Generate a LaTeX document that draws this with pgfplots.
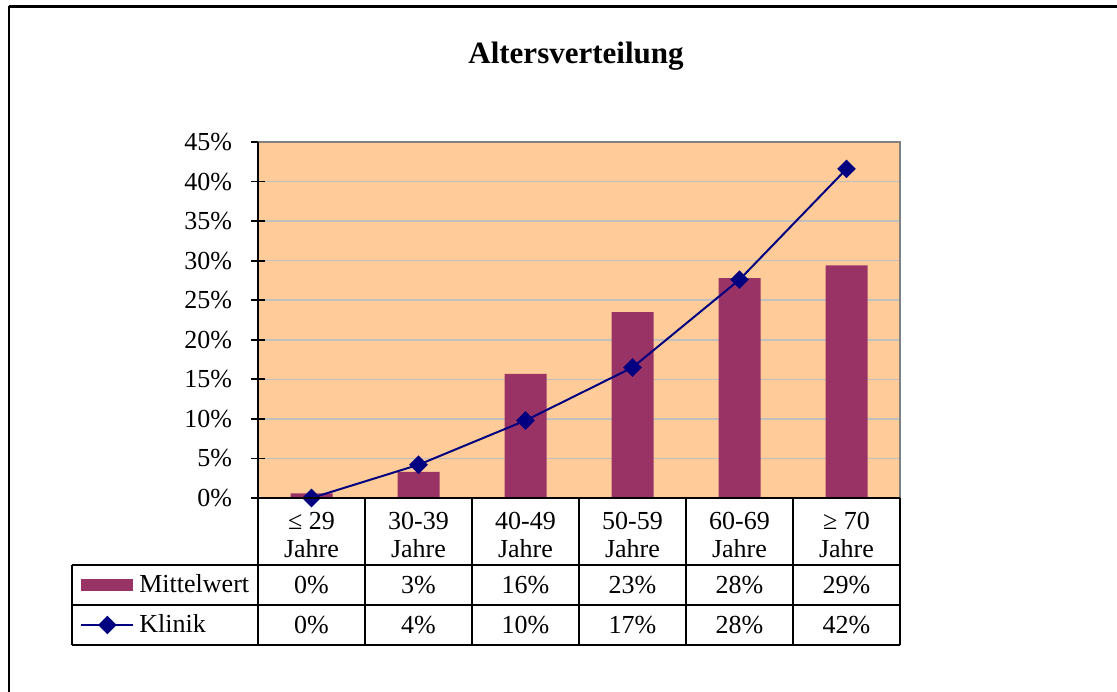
\documentclass[border=0pt]{standalone}
\usepackage{fontspec}
\setmainfont{Liberation Serif}
\usepackage{pgfplots}
\pgfplotsset{compat=1.18}
\definecolor{bgorange}{HTML}{FFCC99}
\definecolor{barred}{HTML}{993366}
\definecolor{navy}{HTML}{000080}
\definecolor{gridgray}{HTML}{C0C0C0}
\definecolor{framegray}{HTML}{808080}
\newcommand{\tfont}{\fontsize{13}{14}\selectfont}
\pgfplotsset{
  barleg/.style={legend image code/.code={\fill[barred] (0pt,-3pt) rectangle (26pt,3pt);}},
  lineleg/.style={legend image code/.code={\draw[mark repeat=2, mark phase=2, ##1]
        plot coordinates {(0pt,0pt) (13pt,0pt) (26pt,0pt)};}},
}

\begin{document}
\begin{tikzpicture}[font=\tfont]
\path[use as bounding box] (0,0) rectangle (558.5pt,345.5pt);
\begin{axis}[
    at={(129pt,96.5pt)}, anchor=south west,
    scale only axis, width=321pt, height=178pt,
    xmin=-0.5, xmax=5.5, ymin=0, ymax=45,
    clip=false,
    xtick={0,...,5},
    xticklabels={{≤ 29\\Jahre},{30-39\\Jahre},{40-49\\Jahre},{50-59\\Jahre},{60-69\\Jahre},{≥ 70\\Jahre}},
    xticklabel style={align=center, font=\tfont},
    x tick style={draw=none},
    ytick={0,5,10,15,20,25,30,35,40,45},
    yticklabels={0\%,5\%,10\%,15\%,20\%,25\%,30\%,35\%,40\%,45\%},
    yticklabel style={font=\tfont, xshift=-6pt},
    ytick pos=left,
    y tick style={black, line width=0.9pt},
    tick align=center, major tick length=7pt,
    axis line style={draw=none},
    axis background/.style={fill=bgorange},
    ymajorgrids, grid style={gridgray, line width=0.75pt},
    legend style={at={(-0.2773,-0.3006)}, anchor=west, draw=none, fill=none,
        inner sep=0pt, font=\tfont,
        nodes={inner sep=0pt, minimum height=20pt}},
    legend cell align=left,
]
\addplot[ybar, bar width=21pt, fill=barred, draw=none, barleg]
    coordinates {(0,0.6) (1,3.3) (2,15.7) (3,23.5) (4,27.8) (5,29.4)};
\addlegendentry{\hspace{2.5pt}Mittelwert}
\addplot[navy, line width=1pt, mark=square*, mark size=2.8pt,
    mark options={rotate=45, fill=navy}, lineleg]
    coordinates {(0,0) (1,4.2) (2,9.8) (3,16.5) (4,27.6) (5,41.6)};
\addlegendentry{\hspace{2.5pt}Klinik}
\end{axis}

\begin{scope}[x=0.5pt, y=-0.5pt, yshift=345.5pt]
  % outer frame (only top and left visible)
  \draw[line width=1.2pt] (8.5,6.5) -- (1120,6.5);
  \draw[line width=1pt] (8.5,6.5) -- (8.5,700);
  % title
  \node[font=\fontsize{15.5}{18}\selectfont\bfseries] at (576,56) {Altersverteilung};
  % plot border
  \draw[framegray, line width=1pt] (258,142) -- (900,142) -- (900,498);
  \draw[line width=1pt] (258,142) -- (258,645);
  % data table
  \begin{scope}[line width=0.9pt]
    \draw (258,498) -- (900,498);
    \draw (72,565) -- (900,565);
    \draw (72,605) -- (900,605);
    \draw (72,645) -- (900,645);
    \draw (72,565) -- (72,645);
    \foreach \x in {365,472,579,686,793,900} \draw (\x,498) -- (\x,645);
  \end{scope}
  \foreach \v [count=\i from 0] in {0,3,16,23,28,29}
    \node at (311.5+107*\i,585) {\v\%};
  \foreach \v [count=\i from 0] in {0,4,10,17,28,42}
    \node at (311.5+107*\i,625) {\v\%};
\end{scope}
\end{tikzpicture}
\end{document}
